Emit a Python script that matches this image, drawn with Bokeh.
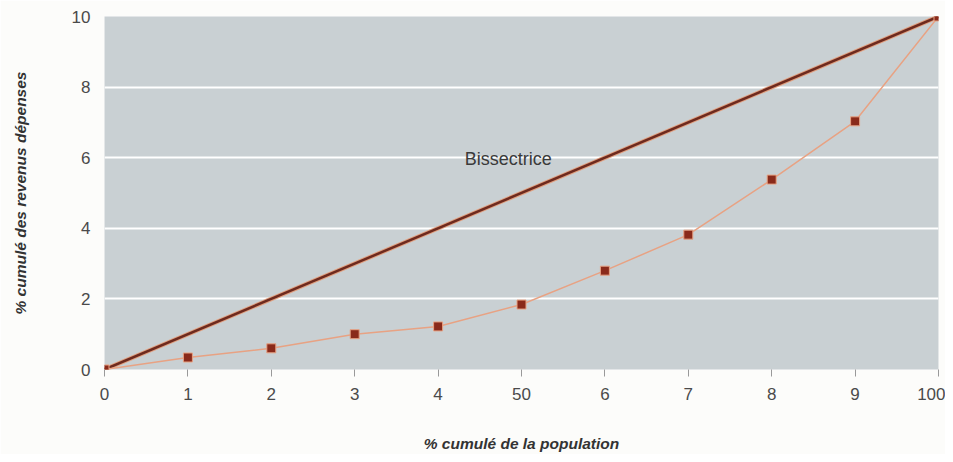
from bokeh.plotting import figure
from bokeh.models import FixedTicker, Range1d, Label
from bokeh.embed import file_html
from bokeh.resources import INLINE

x_labels = ["0", "1", "2", "3", "4", "50", "6", "7", "8", "9", "100"]
lorenz = [0.0, 0.34, 0.6, 1.0, 1.22, 1.84, 2.8, 3.82, 5.38, 7.03, 10.0]
bisect = [0.0, 10.0]
y_ticks = [0, 2, 4, 6, 8, 10]

xs = list(range(len(x_labels)))

p = figure(width=945, height=454, output_backend="svg", toolbar_location=None,
           x_range=Range1d(0, len(x_labels) - 1), y_range=Range1d(0, 10),
           min_border_left=104, min_border_right=7, min_border_top=16, min_border_bottom=60)

p.background_fill_color = "#c9d0d3"
p.border_fill_color = "#fcfcfa"
p.outline_line_color = None

p.xgrid.grid_line_color = None
p.ygrid.grid_line_color = "white"
p.ygrid.grid_line_width = 2
p.ygrid.ticker = FixedTicker(ticks=y_ticks)

p.xaxis.ticker = FixedTicker(ticks=xs)
p.xaxis.major_label_overrides = {i: s for i, s in enumerate(x_labels)}
p.yaxis.ticker = FixedTicker(ticks=y_ticks)

for ax in (p.xaxis, p.yaxis):
    ax.axis_line_color = None
    ax.minor_tick_line_color = None
    ax.major_label_text_font = "Liberation Sans"
    ax.major_label_text_font_size = "17px"
    ax.major_label_text_color = "#4a4a4a"
    ax.axis_label_text_font = "Liberation Sans"
    ax.axis_label_text_font_size = "15.5px"
    ax.axis_label_text_font_style = "bold italic"
    ax.axis_label_text_color = "#333333"

p.xaxis.major_tick_line_color = "#999999"
p.xaxis.major_tick_out = 7
p.xaxis.major_tick_in = 0
p.xaxis.major_label_standoff = 11
p.xaxis.axis_label = "% cumulé de la population"
p.xaxis.axis_label_standoff = 32

p.yaxis.major_tick_line_color = None
p.yaxis.major_tick_out = 0
p.yaxis.major_tick_in = 0
p.yaxis.major_label_standoff = 14
p.yaxis.axis_label = "% cumulé des revenus dépenses"
p.yaxis.axis_label_standoff = 40

bx = [xs[0], xs[-1]]
p.line(bx, bisect, line_color="#e0a080", line_width=4.5)
p.line(bx, bisect, line_color="#6e2a1e", line_width=2.5)

p.line(xs, lorenz, line_color="#e8a283", line_width=1.5)
p.scatter(xs, lorenz, marker="square", size=9, fill_color="#8a2a1a",
          line_color="#e8a283", line_width=1)

p.add_layout(Label(x=4.84, y=5.95, text="Bissectrice", text_align="center",
                   text_baseline="middle", text_font="Liberation Sans",
                   text_font_size="18px", text_color="#3a3a3a"))

open("out.html", "w").write(file_html(p, INLINE))
